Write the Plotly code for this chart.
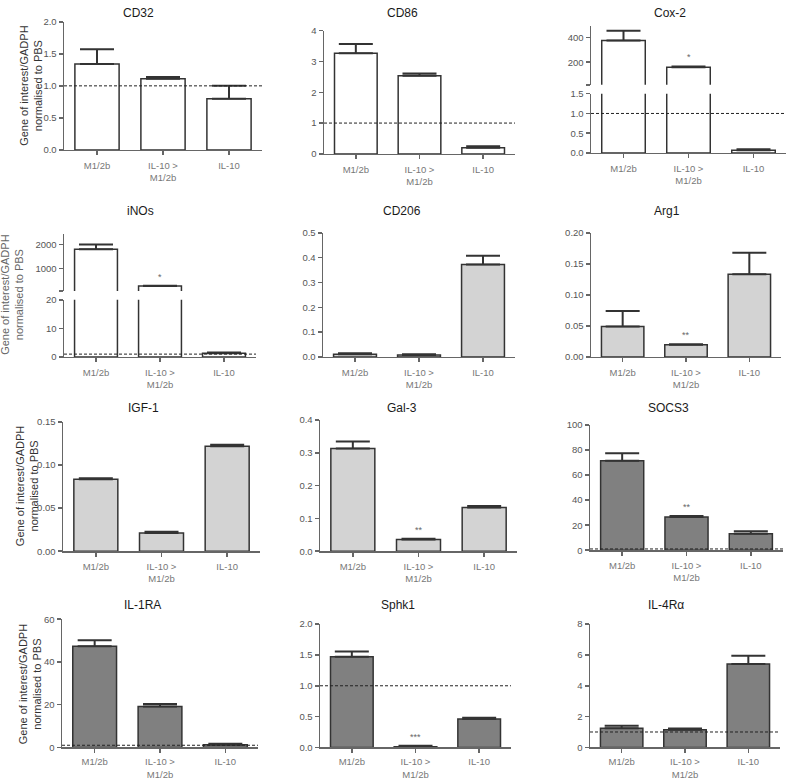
import plotly.graph_objects as go

# ---------------- data ----------------
categories = ["M1/2b", "IL-10 &gt;<br>M1/2b", "IL-10"]

genes = ["CD32", "CD86", "Cox-2", "iNOs", "CD206", "Arg1",
         "IGF-1", "Gal-3", "SOCS3", "IL-1RA", "Sphk1", "IL-4Rα"]

# bar height (mean) and top of error bar (mean + SEM)
cd32_mean = [1.34, 1.11, 0.80]
cd32_upper = [1.57, 1.14, 1.00]
cd86_mean = [3.27, 2.54, 0.20]
cd86_upper = [3.57, 2.61, 0.25]
cox2_mean = [376, 160, 0.07]
cox2_upper = [456, 166, 0.09]
inos_mean = [1800, 250, 1.3]
inos_upper = [2010, 262, 1.6]
cd206_mean = [0.011, 0.008, 0.372]
cd206_upper = [0.015, 0.011, 0.407]
arg1_mean = [0.049, 0.0195, 0.133]
arg1_upper = [0.074, 0.0206, 0.168]
igf1_mean = [0.0836, 0.021, 0.1218]
igf1_upper = [0.0848, 0.0225, 0.1237]
gal3_mean = [0.313, 0.036, 0.133]
gal3_upper = [0.335, 0.038, 0.138]
socs3_mean = [71.4, 26.5, 13.1]
socs3_upper = [77.4, 27.3, 15.2]
il1ra_mean = [47.4, 19.2, 1.23]
il1ra_upper = [50.2, 20.3, 1.7]
sphk1_mean = [1.47, 0.01, 0.46]
sphk1_upper = [1.557, 0.027, 0.48]
il4ra_mean = [1.24, 1.15, 5.42]
il4ra_upper = [1.41, 1.22, 5.95]

cox2_sig = ["", "*", ""]
inos_sig = ["", "*", ""]
arg1_sig = ["", "**", ""]
gal3_sig = ["", "**", ""]
socs3_sig = ["", "**", ""]
sphk1_sig = ["", "***", ""]
no_sig = ["", "", ""]

pbs_baseline = 1.0
y_title = "Gene of interest/GADPH<br>normalised to PBS"

# ---------------- styling / layout ----------------
W, H = 789, 780
FONT = "Liberation Sans, Arial, sans-serif"
WHITE, LIGHT, DARK = "#ffffff", "#d3d3d3", "#808080"
EDGE = "#333333"
AXIS = "#666666"

def fx(p):
    return p / W

def fy(p):
    return 1 - p / H

# name, mean, upper, sig, fill, title x, title y, x-label standoff,
# geometry: (x0, x1, [(ytop, ybottom, range, tickvals, ticktext, fmt), ...]) top to bottom
panels = [
    ("CD32", cd32_mean, cd32_upper, no_sig, WHITE, 138, 7, 2,
     (64, 262, [(16, 146, [0, 2], [0, 0.5, 1, 1.5, 2], None, ".1f")])),
    ("CD86", cd86_mean, cd86_upper, no_sig, WHITE, 402, 7, 2,
     (324, 515, [(25, 150, [0, 4], [0, 1, 2, 3, 4], None, "d")])),
    ("Cox-2", cox2_mean, cox2_upper, cox2_sig, WHITE, 670, 7, 2,
     (591, 786, [(20, 80, [16, 496], [16, 200, 400], ["", "200", "400"], None),
                 (89, 149, [0, 1.5], [0, 0.5, 1, 1.5], None, ".1f")])),
    ("iNOs", inos_mean, inos_upper, inos_sig, WHITE, 140, 208, 2,
     (64, 256, [(231, 289, [42, 2460], [42, 1000, 2000], ["", "1000", "2000"], None),
                (298, 356, [0, 20], [0, 10, 20], None, "d")])),
    ("CD206", cd206_mean, cd206_upper, no_sig, LIGHT, 402, 208, 2,
     (323, 515, [(230, 356, [0, 0.5], [0, 0.1, 0.2, 0.3, 0.4, 0.5], None, ".1f")])),
    ("Arg1", arg1_mean, arg1_upper, arg1_sig, LIGHT, 667, 208, 2,
     (591, 781, [(230, 356, [0, 0.2], [0, 0.05, 0.1, 0.15, 0.2], None, ".2f")])),
    ("IGF-1", igf1_mean, igf1_upper, no_sig, LIGHT, 143, 408, 2,
     (63, 260, [(422, 553, [0, 0.15], [0, 0.05, 0.1, 0.15], None, ".2f")])),
    ("Gal-3", gal3_mean, gal3_upper, gal3_sig, LIGHT, 402, 408, 2,
     (320, 517, [(420, 553, [0, 0.4], [0, 0.1, 0.2, 0.3, 0.4], None, ".1f")])),
    ("SOCS3", socs3_mean, socs3_upper, socs3_sig, DARK, 668, 408, 2,
     (590, 783, [(425, 552, [0, 100], [0, 20, 40, 60, 80, 100], None, "d")])),
    ("IL-1RA", il1ra_mean, il1ra_upper, no_sig, DARK, 142, 608, 1,
     (62, 258, [(622, 752, [0, 60], [0, 20, 40, 60], None, "d")])),
    ("Sphk1", sphk1_mean, sphk1_upper, sphk1_sig, DARK, 398, 608, 1,
     (320, 511, [(627, 752, [0, 2], [0, 0.5, 1, 1.5, 2], None, ".1f")])),
    ("IL-4Rα", il4ra_mean, il4ra_upper, no_sig, DARK, 666, 608, 1,
     (590, 780, [(627, 752, [0, 8], [0, 2, 4, 6, 8], None, "d")])),
]

ytitles = [(31, 81, "#333333"), (12, 293, "#666666"), (27, 487, "#333333"), (30, 688, "#333333")]

fig = go.Figure()
layout = {}
annotations = []
shapes = []
n = 0

for name, mean, upper, sig, fill, tx, ty, stand, (x0, x1, segs) in panels:
    annotations.append(dict(text=name, x=fx(tx), y=fy(ty), xref="paper", yref="paper",
                            xanchor="center", yanchor="middle", showarrow=False,
                            font=dict(family=FONT, size=12, color="#1a1a1a")))
    for si, (yt, yb, yr, tv, tt, fmt) in enumerate(segs):
        n += 1
        xk = "xaxis" if n == 1 else f"xaxis{n}"
        yk = "yaxis" if n == 1 else f"yaxis{n}"
        xr = "x" if n == 1 else f"x{n}"
        yrf = "y" if n == 1 else f"y{n}"
        bottom = si == len(segs) - 1
        layout[xk] = dict(domain=[fx(x0), fx(x1)], anchor=yrf, type="category",
                          range=[-0.5, 2.5], showgrid=False, zeroline=False,
                          showline=bottom, linecolor=AXIS, linewidth=1.5,
                          ticks="outside" if bottom else "", ticklen=4, tickwidth=1.5,
                          tickcolor=AXIS, showticklabels=bottom,
                          ticklabelstandoff=stand,
                          tickfont=dict(family=FONT, size=9.5, color="#777777"),
                          fixedrange=True)
        yd = dict(domain=[fy(yb), fy(yt)], anchor=xr, range=yr, showgrid=False,
                  zeroline=False, showline=True, linecolor=AXIS, linewidth=1.5,
                  ticks="outside", ticklen=4, tickwidth=1.5, tickcolor=AXIS,
                  tickmode="array", tickvals=tv,
                  tickfont=dict(family=FONT, size=9.5, color="#555555"),
                  fixedrange=True)
        if tt is not None:
            yd["ticktext"] = tt
        else:
            yd["ticktext"] = [format(v, fmt) if fmt != "d" else str(int(v)) for v in tv]
        layout[yk] = yd

        fig.add_trace(go.Bar(
            x=categories, y=mean, xaxis=xr, yaxis=yrf, width=0.67,
            marker=dict(color=fill, line=dict(color=EDGE, width=1.5)),
            error_y=dict(type="data", symmetric=False,
                         array=[u - m for u, m in zip(upper, mean)],
                         arrayminus=[0, 0, 0], color=EDGE, thickness=2, width=17),
            showlegend=False, hoverinfo="skip"))

        if yr[0] <= pbs_baseline <= yr[1]:
            shapes.append(dict(type="line", xref=f"{xr} domain", yref=yrf,
                               x0=0, x1=1, y0=pbs_baseline, y1=pbs_baseline,
                               line=dict(color="#222222", width=1, dash="3px,2px"),
                               layer="above"))
        for i, s in enumerate(sig):
            if s and yr[0] <= upper[i] <= yr[1]:
                annotations.append(dict(text=s, x=i, y=upper[i], xref=xr, yref=yrf,
                                        xanchor="center", yanchor="bottom", showarrow=False,
                                        yshift=2,
                                        font=dict(family=FONT, size=9, color="#666666")))

for (cx, cy, col) in ytitles:
    annotations.append(dict(text=y_title, x=fx(cx), y=fy(cy), xref="paper", yref="paper",
                            xanchor="center", yanchor="middle", textangle=-90,
                            showarrow=False,
                            font=dict(family=FONT, size=11, color=col)))

fig.update_layout(width=W, height=H, margin=dict(l=0, r=0, t=0, b=0),
                  paper_bgcolor="white", plot_bgcolor="white",
                  annotations=annotations, shapes=shapes, bargap=0.33, **layout)

fig.write_html("out.html", config={"displayModeBar": False, "staticPlot": True},
               post_script="document.body.style.margin='0';document.body.style.overflow='hidden';")
